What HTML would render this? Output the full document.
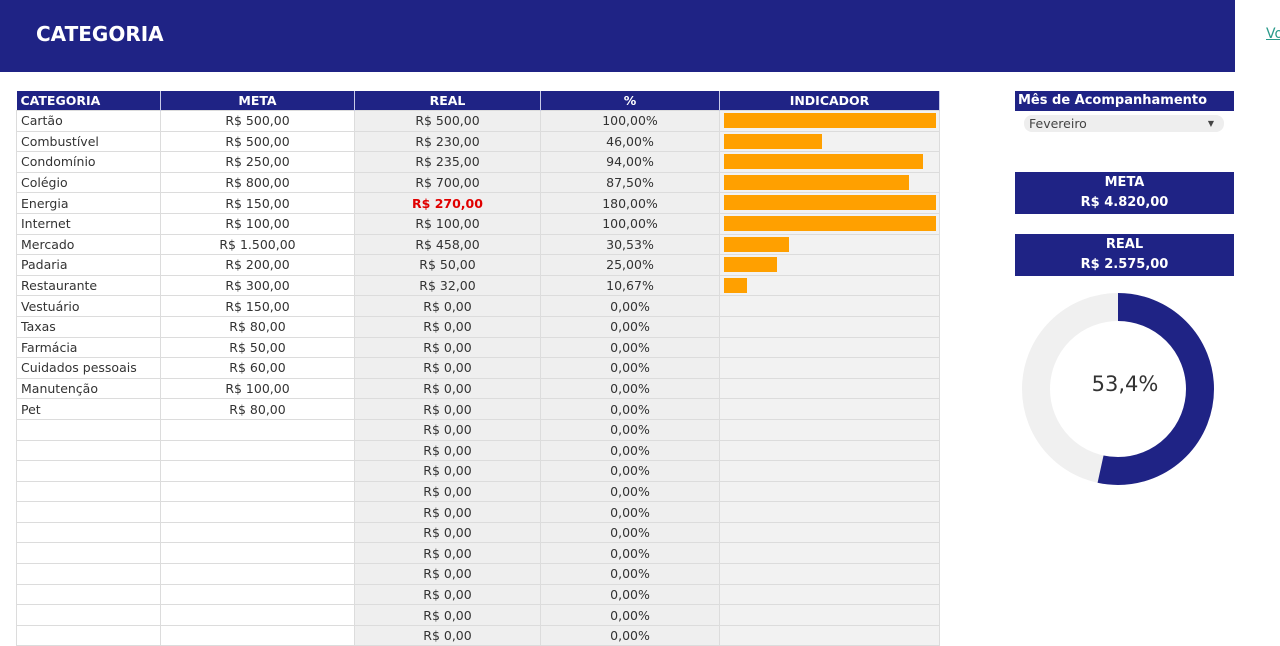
<!DOCTYPE html>
<html><head><meta charset="utf-8"><style>
body{margin:0;width:1280px;height:630px;overflow:hidden;background:#fff;font-family:"DejaVu Sans","Liberation Sans",sans-serif;position:relative}
.hdr{position:absolute;left:0;top:0;width:1235px;height:72px;background:#1f2385}
.hdr span{position:absolute;left:36px;top:22px;color:#fff;font-weight:bold;font-size:20px;font-family:"DejaVu Sans",sans-serif}
.vo{position:absolute;left:1266px;top:26px;color:#2a9a8a;text-decoration:underline;font-size:14px}
table{position:absolute;left:16px;top:91px;border-collapse:collapse;table-layout:fixed;font-size:12.5px;color:#333}
td{height:19.6px;padding:0;border:1px solid #dcdcdc;text-align:center;white-space:nowrap;overflow:hidden;line-height:19px}
th{height:19px;padding:0;background:#1f2385;color:#fff;font-weight:bold;font-size:12.5px;border-right:1px solid #c8cbe8}
td:first-child{text-align:left;padding-left:4px}
td.g{background:#efefef}
td.i{background:#f2f2f2;text-align:left;position:relative}
.b{position:absolute;left:4px;top:2px;height:15px;background:#ffa000}
.red{color:#e00000;font-weight:bold}
.box{position:absolute;left:1015px;width:219px;background:#1f2385;color:#fff;font-weight:bold;text-align:center;font-size:13px}
</style></head><body>
<div class="hdr"><span>CATEGORIA</span></div>
<div class="vo">Vo</div>
<table>
<colgroup><col style="width:144px"><col style="width:194px"><col style="width:186px"><col style="width:179px"><col style="width:220px"></colgroup>
<tr><th style="text-align:left;padding-left:4px">CATEGORIA</th><th>META</th><th>REAL</th><th>%</th><th>INDICADOR</th></tr>
<tr><td>Cartão</td><td>R$ 500,00</td><td class="g">R$ 500,00</td><td class="g">100,00%</td><td class="i"><div class="b" style="width:212px"></div></td></tr>
<tr><td>Combustível</td><td>R$ 500,00</td><td class="g">R$ 230,00</td><td class="g">46,00%</td><td class="i"><div class="b" style="width:98px"></div></td></tr>
<tr><td>Condomínio</td><td>R$ 250,00</td><td class="g">R$ 235,00</td><td class="g">94,00%</td><td class="i"><div class="b" style="width:199px"></div></td></tr>
<tr><td>Colégio</td><td>R$ 800,00</td><td class="g">R$ 700,00</td><td class="g">87,50%</td><td class="i"><div class="b" style="width:185px"></div></td></tr>
<tr><td>Energia</td><td>R$ 150,00</td><td class="g red">R$ 270,00</td><td class="g">180,00%</td><td class="i"><div class="b" style="width:212px"></div></td></tr>
<tr><td>Internet</td><td>R$ 100,00</td><td class="g">R$ 100,00</td><td class="g">100,00%</td><td class="i"><div class="b" style="width:212px"></div></td></tr>
<tr><td>Mercado</td><td>R$ 1.500,00</td><td class="g">R$ 458,00</td><td class="g">30,53%</td><td class="i"><div class="b" style="width:65px"></div></td></tr>
<tr><td>Padaria</td><td>R$ 200,00</td><td class="g">R$ 50,00</td><td class="g">25,00%</td><td class="i"><div class="b" style="width:53px"></div></td></tr>
<tr><td>Restaurante</td><td>R$ 300,00</td><td class="g">R$ 32,00</td><td class="g">10,67%</td><td class="i"><div class="b" style="width:23px"></div></td></tr>
<tr><td>Vestuário</td><td>R$ 150,00</td><td class="g">R$ 0,00</td><td class="g">0,00%</td><td class="i"></td></tr>
<tr><td>Taxas</td><td>R$ 80,00</td><td class="g">R$ 0,00</td><td class="g">0,00%</td><td class="i"></td></tr>
<tr><td>Farmácia</td><td>R$ 50,00</td><td class="g">R$ 0,00</td><td class="g">0,00%</td><td class="i"></td></tr>
<tr><td>Cuidados pessoais</td><td>R$ 60,00</td><td class="g">R$ 0,00</td><td class="g">0,00%</td><td class="i"></td></tr>
<tr><td>Manutenção</td><td>R$ 100,00</td><td class="g">R$ 0,00</td><td class="g">0,00%</td><td class="i"></td></tr>
<tr><td>Pet</td><td>R$ 80,00</td><td class="g">R$ 0,00</td><td class="g">0,00%</td><td class="i"></td></tr>
<tr><td></td><td></td><td class="g">R$ 0,00</td><td class="g">0,00%</td><td class="i"></td></tr>
<tr><td></td><td></td><td class="g">R$ 0,00</td><td class="g">0,00%</td><td class="i"></td></tr>
<tr><td></td><td></td><td class="g">R$ 0,00</td><td class="g">0,00%</td><td class="i"></td></tr>
<tr><td></td><td></td><td class="g">R$ 0,00</td><td class="g">0,00%</td><td class="i"></td></tr>
<tr><td></td><td></td><td class="g">R$ 0,00</td><td class="g">0,00%</td><td class="i"></td></tr>
<tr><td></td><td></td><td class="g">R$ 0,00</td><td class="g">0,00%</td><td class="i"></td></tr>
<tr><td></td><td></td><td class="g">R$ 0,00</td><td class="g">0,00%</td><td class="i"></td></tr>
<tr><td></td><td></td><td class="g">R$ 0,00</td><td class="g">0,00%</td><td class="i"></td></tr>
<tr><td></td><td></td><td class="g">R$ 0,00</td><td class="g">0,00%</td><td class="i"></td></tr>
<tr><td></td><td></td><td class="g">R$ 0,00</td><td class="g">0,00%</td><td class="i"></td></tr>
<tr><td></td><td></td><td class="g">R$ 0,00</td><td class="g">0,00%</td><td class="i"></td></tr>
</table>
<div class="box" style="top:91px;height:20px;text-align:left;padding-left:3px;width:216px;line-height:20px">Mês de Acompanhamento</div>
<div style="position:absolute;left:1024px;top:115px;width:200px;height:17px;background:#eeeeee;border-radius:8px;font-size:12.5px;color:#444;line-height:17px;padding-left:5px;box-sizing:border-box">Fevereiro<span style="position:absolute;right:10px;top:0;font-size:8px">▼</span></div>
<div class="box" style="top:172px;height:42px;line-height:20px;padding-top:1px;box-sizing:border-box">META<br>R$ 4.820,00</div>
<div class="box" style="top:234px;height:42px;line-height:20px;padding-top:1px;box-sizing:border-box">REAL<br>R$ 2.575,00</div>
<svg style="position:absolute;left:0;top:0" width="1280" height="630">
<circle cx="1118" cy="389" r="82" fill="none" stroke="#f0f0f0" stroke-width="28"/>
<circle cx="1118" cy="389" r="82" fill="none" stroke="#1f2385" stroke-width="28" stroke-dasharray="275.1 600" transform="rotate(-90 1118 389)"/>
<text x="1125" y="391" font-family="DejaVu Sans,sans-serif" font-size="21" fill="#333" text-anchor="middle">53,4%</text>
</svg>
</body></html>
